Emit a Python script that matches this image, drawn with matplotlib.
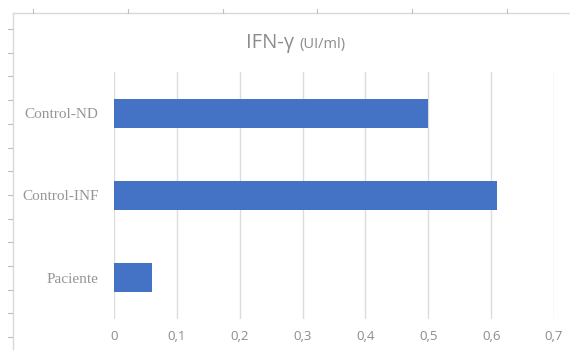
import matplotlib.pyplot as plt
import numpy as np
from matplotlib.lines import Line2D

# data
categories = ['Paciente', 'Control-INF', 'Control-ND']
values = [0.06, 0.61, 0.50]
x_ticks = [0, 0.1, 0.2, 0.3, 0.4, 0.5, 0.6, 0.7]
x_labels = ['0', '0,1', '0,2', '0,3', '0,4', '0,5', '0,6', '0,7']

W, H = 570, 350
fig = plt.figure(figsize=(W / 100, H / 100), dpi=100)
fig.patch.set_facecolor('white')

# plot area in pixels: x 114..554, y 72..319
ax = fig.add_axes([114 / W, 1 - 319 / H, 440 / W, 247 / H])
y = np.arange(len(categories))
ax.barh(y, values, height=0.35, color='#4472C4', zorder=3)
ax.set_xlim(0, 0.7)
ax.set_ylim(-0.5, len(categories) - 0.5)
ax.set_xticks(x_ticks)
ax.set_xticklabels(x_labels, fontfamily='Open Sans', fontsize=9.5, color='#8c8c8c')
ax.set_yticks(y)
ax.set_yticklabels(categories, fontfamily='Liberation Serif', fontsize=11, color='#959595')
ax.tick_params(axis='both', length=0)
ax.tick_params(axis='x', pad=8)
ax.tick_params(axis='y', pad=11)
ax.grid(axis='x', color='#dcdcdc', linewidth=1, zorder=0)
for s in ax.spines.values():
    s.set_visible(False)

# title
fig.text(294 / W, 1 - 48 / H, 'IFN-γ', ha='right', va='baseline',
         fontfamily='Open Sans', fontsize=14.5, color='#8c8c8c')
fig.text(299 / W, 1 - 48 / H, '(UI/ml)', ha='left', va='baseline',
         fontfamily='Open Sans', fontsize=10.5, color='#8c8c8c')

# chart frame and ruler ticks from the screenshot
edge = '#d9d9d9'
fig.add_artist(Line2D([13 / W, 13 / W], [0, 1 - 13 / H], transform=fig.transFigure, color=edge, lw=1))
fig.add_artist(Line2D([13 / W, 1], [1 - 13 / H, 1 - 13 / H], transform=fig.transFigure, color=edge, lw=1))
for py in np.arange(29, 350, 23.7):
    fig.add_artist(Line2D([8 / W, 12 / W], [1 - py / H, 1 - py / H], transform=fig.transFigure, color='#bfbfbf', lw=0.8))
for px in np.arange(33, 570, 94.8):
    fig.add_artist(Line2D([px / W, px / W], [1 - 9 / H, 1 - 13 / H], transform=fig.transFigure, color='#bfbfbf', lw=0.8))

fig.savefig('out.png', dpi=100)
